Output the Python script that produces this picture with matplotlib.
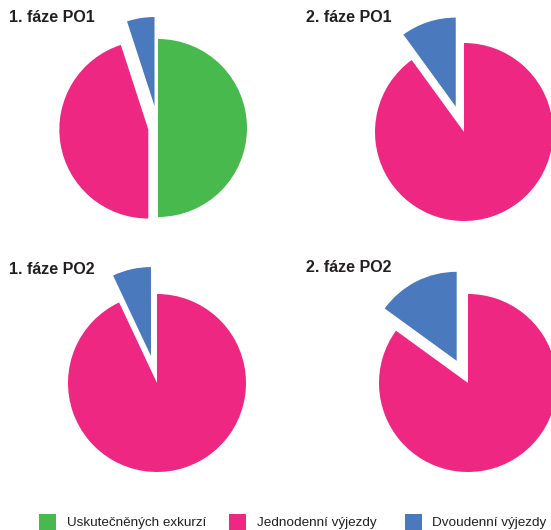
import matplotlib
matplotlib.use("Agg")
import matplotlib.pyplot as plt
from matplotlib.patches import Rectangle

plt.rcParams['font.family'] = ['Liberation Sans', 'DejaVu Sans']

# data
labels = ["Uskutečněných exkurzí", "Jednodenní výjezdy", "Dvoudenní výjezdy"]
colors = ["#48b94c", "#ee2783", "#4a7abd"]
titles = ["1. fáze PO1", "2. fáze PO1", "1. fáze PO2", "2. fáze PO2"]
po1_faze1 = [50, 45, 5]
po1_faze2 = [0, 90, 10]
po2_faze1 = [0, 93, 7]
po2_faze2 = [0, 85, 15]
explodes = [[0, 0.11, 0.25], [0, 0, 0.3], [0, 0, 0.31], [0, 0, 0.28]]

W, H = 551, 530
fig = plt.figure(figsize=(W / 100, H / 100), dpi=100)

R = 89          # pie radius in px
L = 120         # half size of each pie axes in px
centers = [(158, 128), (464, 132), (157, 383), (468, 383)]
title_pos = [(9, 17), (306, 17), (9, 270), (306, 268)]
series = [po1_faze1, po1_faze2, po2_faze1, po2_faze2]

for vals, ex, (cx, cy), title, (tx, ty) in zip(series, explodes, centers, titles, title_pos):
    ax = fig.add_axes([(cx - L) / W, (H - cy - L) / H, 2 * L / W, 2 * L / H])
    keep = [i for i, v in enumerate(vals) if v > 0]
    ax.pie([vals[i] for i in keep], colors=[colors[i] for i in keep],
           explode=[ex[i] for i in keep], startangle=90, counterclock=False,
           radius=1, wedgeprops=dict(linewidth=0), frame=False)
    ax.set_xlim(-L / R, L / R)
    ax.set_ylim(-L / R, L / R)
    ax.axis('off')
    fig.text(tx / W, 1 - ty / H, title, fontsize=11.5, fontweight='bold',
             color='#231f20', va='center', ha='left')

# legend
leg_sq = [39, 229, 405]
leg_txt = [67, 257, 432]
for sx, tx, lab, col in zip(leg_sq, leg_txt, labels, colors):
    fig.patches.append(Rectangle((sx / W, 0), 17 / W, 16 / H,
                                 transform=fig.transFigure, facecolor=col,
                                 edgecolor='none'))
    fig.text(tx / W, 1 - 523 / H, lab, fontsize=9.7, color='#231f20',
             va='center', ha='left')

fig.savefig("out.png", dpi=100)
